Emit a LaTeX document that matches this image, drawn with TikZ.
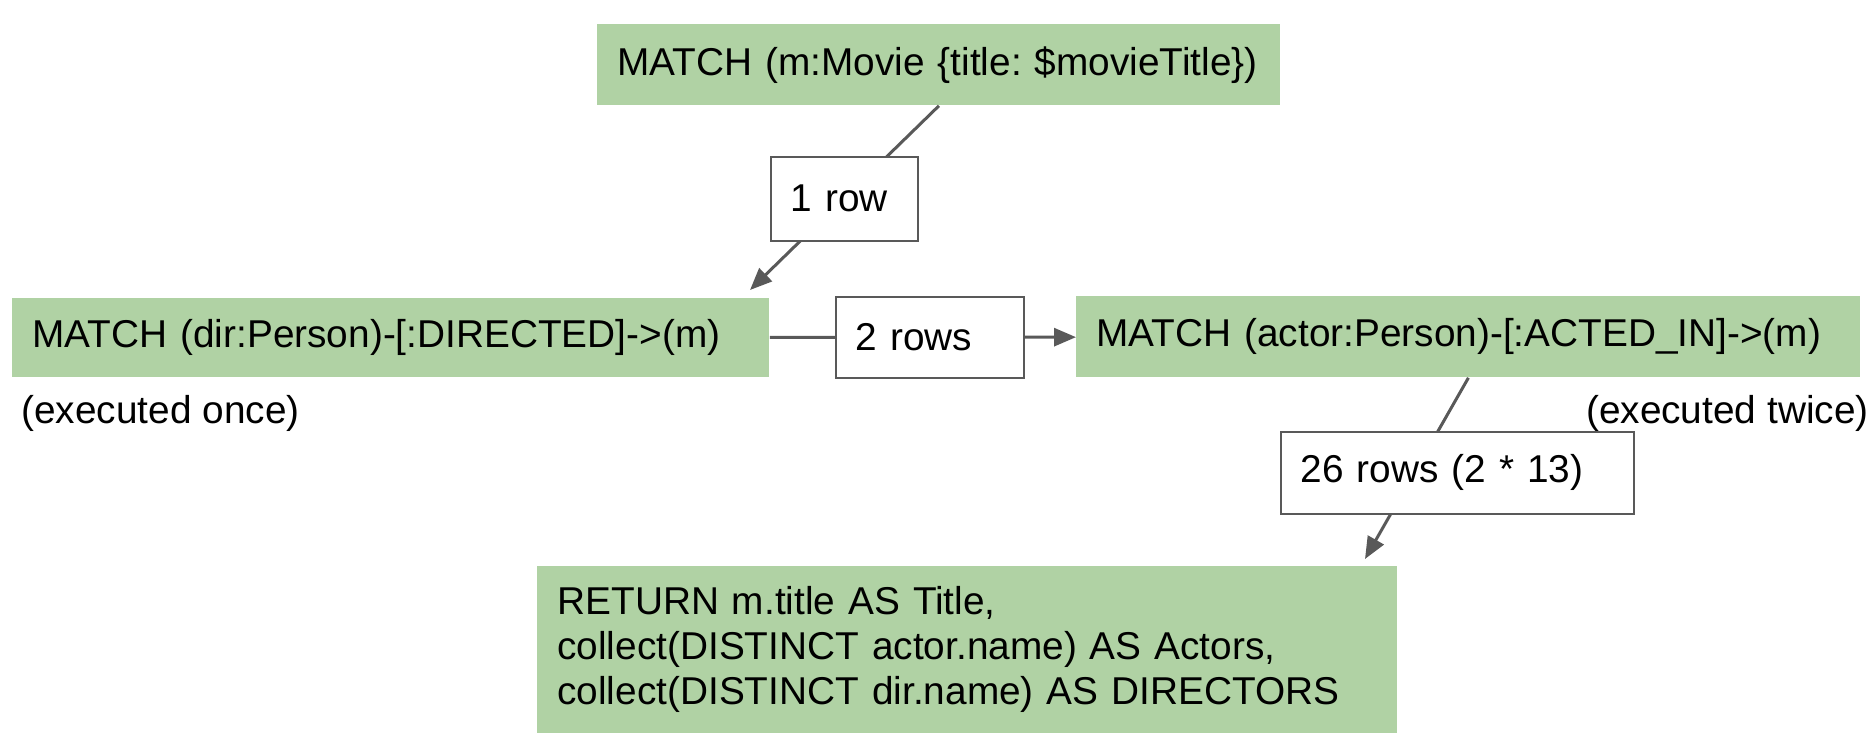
\documentclass[tikz,border=0pt]{standalone}
\usepackage{fontspec}
\setmainfont{Liberation Sans}
\usepackage{xcolor}
\usepackage{tikz}
\usetikzlibrary{arrows.meta, positioning}
\definecolor{querygreen}{HTML}{B0D2A4}
\definecolor{linegrey}{HTML}{595959}
\frenchspacing

\begin{document}
\begin{tikzpicture}[
  x=0.5pt, y=-0.5pt,
  font=\fontsize{19.4}{22.5}\selectfont,
  qry/.style={rectangle, fill=querygreen, anchor=north west, align=left,
              inner xsep=10pt, inner ysep=2pt},
  rows/.style={rectangle, fill=white, draw=linegrey, line width=0.75pt,
               anchor=north west, align=left, inner xsep=10pt, inner ysep=2pt},
  note/.style={inner sep=0pt},
  ln/.style={line width=1.5pt, linegrey},
  ar/.style={-{Triangle[length=11pt, width=9pt]}, line width=1.5pt, linegrey}]
\useasboundingbox (0,0) rectangle (1872,750);
\node[qry, text width=321.5pt, minimum height=40.5pt] (movie) at (597,24)
  {MATCH (m:Movie \{title: \$movieTitle\})};
\node[qry, text width=358.5pt, minimum height=39.5pt] (dir) at (12,298)
  {MATCH (dir:Person)-[:DIRECTED]->(m)};
\node[qry, text width=372pt, minimum height=40.5pt] (actor) at (1076,296)
  {MATCH (actor:Person)-[:ACTED\_IN]->(m)};
\node[qry, text width=410pt, minimum height=83.5pt] (ret) at (537,566)
  {RETURN m.title AS Title,\\collect(DISTINCT actor.name) AS Actors,\\collect(DISTINCT dir.name) AS DIRECTORS};
\node[note, anchor=west] (once) at (21,413) {(executed once)};
\node[note, anchor=east] (twice) at (1869,413) {(executed twice)};
\coordinate (tipA) at (750,290);
\coordinate (tipB) at (1365,559);
% connectors first, row counts on top
\draw[ar] (movie.south) -- (tipA);
\draw[ar] (actor.south) -- (tipB);
\node[rows, text width=53.5pt, minimum height=42pt] (onerow) at (770,156) {1 row};
\node[rows, text width=74pt, minimum height=40.5pt] (tworows) at (835,296) {2 rows};
\node[rows, text width=156.5pt, minimum height=41pt] (manyrows) at (1280,431) {26 rows (2 * 13)};
\draw[ln] (dir) -- (tworows);
\draw[ar] (tworows) -- (actor);
\end{tikzpicture}
\end{document}
